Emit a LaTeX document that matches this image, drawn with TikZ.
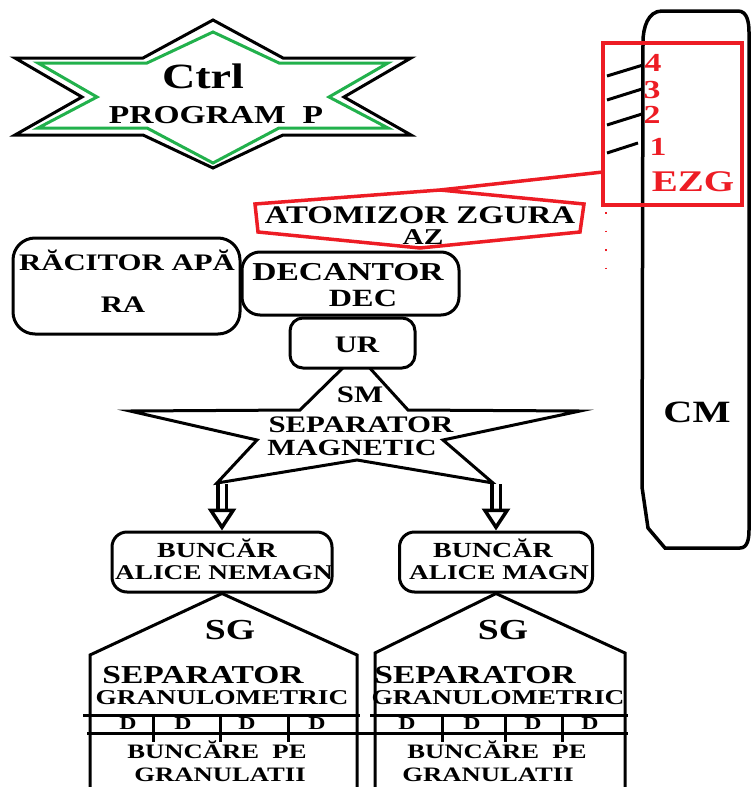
\documentclass[tikz,border=0pt]{standalone}
\usepackage{fontspec}
\setmainfont{Liberation Serif}[FakeStretch=1.3]
\usetikzlibrary{arrows.meta}
\definecolor{ezgred}{RGB}{237,28,36}
\definecolor{ctrlgreen}{RGB}{34,177,76}
\tikzstyle{roundbox}=[draw, line width=3pt, fill=white, inner sep=0pt]
\tikzstyle{redline}=[draw=ezgred, line width=3.5pt]
\tikzstyle{thickline}=[line width=3pt]
\tikzstyle{dblarrow}=[double, double distance=5pt, line width=3.5pt, -{Triangle[open, fill=white, length=22pt, width=28pt, line width=3.5pt]}]
\tikzset{txt/.style={inner sep=0pt, anchor=base, yshift={-0.33*#1pt}, font=\bfseries\fontsize{#1}{#1}\selectfont}}
\newcommand{\drawSGhouse}[4]{% left wall, right wall, eaves, hopper above the roof
\draw[thickline] (#1,790) -- (#1,#3) -- (#4.south) -- (#2,#3) -- (#2,790);
}

\begin{document}
\begin{tikzpicture}[x=1pt,y=-1pt]
\useasboundingbox (0,0) rectangle (751,787);
% control star
\draw[thickline] (15,58) -- (143,58) -- (213,20) -- (283,58) -- (411,58) -- (344,97) -- (411,135) -- (283,135) -- (213,168) -- (143,135) -- (15,135) -- (82,97) -- cycle;
\draw[thickline, ctrlgreen] (38,63) -- (147,63) -- (213,32) -- (279,63) -- (388,63) -- (329,97) -- (388,128) -- (279,128) -- (213,163) -- (147,128) -- (38,128) -- (97,97) -- cycle;
\node[txt=35.5] (ctrl) at (203,77) {Ctrl};
\node[txt=25.8] (prog) at (216,115) {PROGRAM\ \ P};

% column CM
\draw[line width=3.5pt] (665,548) -- (740,548) to[out=0,in=-90] (749,530) -- (749,32) to[out=90,in=0] (738,11) -- (662,11) to[out=180,in=90] (643,42) -- (642,487) -- (648,528) -- cycle;
\node[txt=31] (cm) at (697,412) {CM};

% EZG
\node[draw=ezgred, line width=3.5pt, minimum width=139pt, minimum height=162pt, inner sep=0pt] (ezg) at (672.5,124) {};
\foreach \xa/\ya/\xb/\yb in {607/76/643/65, 607/100/642/89, 607/125/642/114, 607/153/638/143}
  \draw[thickline] (\xa,\ya) -- (\xb,\yb);
\foreach \d/\x/\y in {4/653/63, 3/652/90, 2/652/115, 1/658/147}
  \node[txt=26, text=ezgred] (n\d) at (\x,\y) {\d};
\node[txt=30, text=ezgred] (ezglbl) at (693,182) {EZG};
\coordinate (ezgport) at (603,172);
\draw[ezgred, line width=1.5pt, dash pattern=on 1.5pt off 17pt] (606,212) -- (606,280);

% atomizer AZ
\coordinate (aztop) at (440,190);
\draw[redline] (255,204) -- (aztop) -- (584,204) -- (580,232) -- (420,248) -- (258,232) -- cycle;
\draw[redline] (aztop) -- (ezgport);
\node[txt=25.3] (az1) at (420,215) {ATOMIZOR ZGURA};
\node[txt=22.6] (az2) at (423,237) {AZ};

% cooler, decanter
\node[roundbox, rounded corners=22pt, minimum width=227pt, minimum height=96pt] (ra) at (126.5,286) {};
\node[txt=23.7] (ra1) at (127,263) {RĂCITOR APĂ};
\node[txt=23.7] (ra2) at (123,305) {RA};
\node[roundbox, rounded corners=18pt, minimum width=217pt, minimum height=63pt] (dec) at (350.5,283.5) {};
\node[txt=25.8] (dec1) at (348,272) {DECANTOR};
\node[txt=24.8] (dec2) at (363,298) {DEC};

% magnetic separator
\draw[thickline] (357,354) -- (408,410) -- (580,411) -- (443,440) -- (493,483) -- (357,460) -- (217,483) -- (257,440) -- (130,411) -- (300,410) -- cycle;
\coordinate (smleft) at (222,484);
\coordinate (smright) at (496,484);
\node[roundbox, rounded corners=13pt, minimum width=125pt, minimum height=50pt] (ur) at (352.5,343) {};
\node[txt=23.7] (urlbl) at (357,345) {UR};
\node[txt=23.7] (sm1) at (360,395) {SM};
\node[txt=23.7] (sm2) at (361,425) {SEPARATOR};
\node[txt=23.2] (sm3) at (352,448) {MAGNETIC};

% hoppers
\node[roundbox, rounded corners=15pt, minimum width=220pt, minimum height=60pt] (bnm) at (222,562) {};
\node[roundbox, rounded corners=15pt, minimum width=193pt, minimum height=60pt] (bm) at (496,562) {};
\draw[dblarrow] (smleft) -- (bnm.north);
\draw[dblarrow] (smright) -- (bm.north);
\node[txt=21.5] (bnm1) at (217,550) {BUNCĂR};
\node[txt=21] (bnm2) at (224,573) {ALICE NEMAGN};
\node[txt=21.5] (bm1) at (493,550) {BUNCĂR};
\node[txt=21] (bm2) at (499,573) {ALICE MAGN};

% granulometric separators
\drawSGhouse{90}{357}{655}{bnm}
\drawSGhouse{375}{625}{653}{bm}
\draw[thickline] (83,715) -- (360,715);
\draw[thickline] (370,715) -- (628,715);
\draw[thickline] (87,733) -- (628,733);
\foreach \x in {153,220,288,442,505,562}
  \draw[thickline] (\x,715) -- (\x,742);
\foreach \x [count=\i] in {128,183,247,317,407,472,533,590}
  \node[txt=18.3] (d\i) at (\x,723) {D};
\node[txt=29] (sg1) at (230,630) {SG};
\node[txt=25.8] (sep1) at (203,675) {SEPARATOR};
\node[txt=21.1] (gran1) at (222,698) {GRANULOMETRIC};
\node[txt=20.5] (bg1) at (217,752) {BUNCĂRE\ \ PE};
\node[txt=20.5] (gr1) at (220,775) {GRANULATII};
\node[txt=29] (sg2) at (503,630) {SG};
\node[txt=25.8] (sep2) at (475,675) {SEPARATOR};
\node[txt=21.1] (gran2) at (498,698) {GRANULOMETRIC};
\node[txt=20.5] (bg2) at (497,752) {BUNCĂRE\ \ PE};
\node[txt=20.5] (gr2) at (488,775) {GRANULATII};
\end{tikzpicture}
\end{document}
